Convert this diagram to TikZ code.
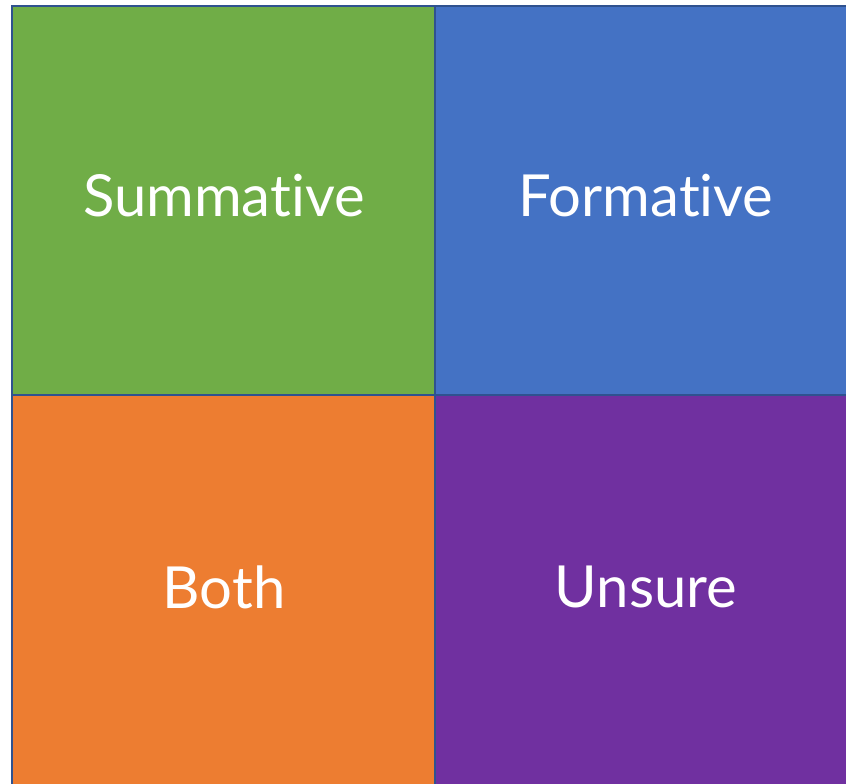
\documentclass[tikz,border=0pt]{standalone}
\usepackage{fontspec}
\setmainfont{Lato}[Ligatures={NoCommon}]
\definecolor{cgreen}{HTML}{70AD47}
\definecolor{cblue}{HTML}{4472C4}
\definecolor{corange}{HTML}{ED7D31}
\definecolor{cpurple}{HTML}{7030A0}
\definecolor{cline}{HTML}{2F528F}
\begin{document}
\begin{tikzpicture}[x=1pt,y=1pt,
  cell/.style={draw=cline, line width=2pt, minimum width=422.5pt, minimum height=395pt,
    inner sep=0pt, outer sep=0pt, anchor=north west},
  lbl/.style={text=white, inner sep=0pt, font=\fontsize{58}{64}\selectfont}]
\useasboundingbox (0,0) rectangle (846,784);
\clip (0,0) rectangle (846,784);
\fill[white] (0,0) rectangle (846,784);
\node[cell, fill=corange] (both) at (12,389) {};
\node[cell, fill=cpurple] (uns) at (434.5,389) {};
\node[cell, fill=cgreen, minimum height=389pt] (sum) at (12,778) {};
\node[cell, fill=cblue, minimum height=389pt] (form) at (434.5,778) {};
\node[lbl] (sumt) at (224,588) {Summative};
\node[lbl] (formt) at (646,588) {Formative};
\node[lbl] (botht) at (224,197) {Both};
\node[lbl] (unst) at (646,197) {Unsure};
\end{tikzpicture}
\end{document}
